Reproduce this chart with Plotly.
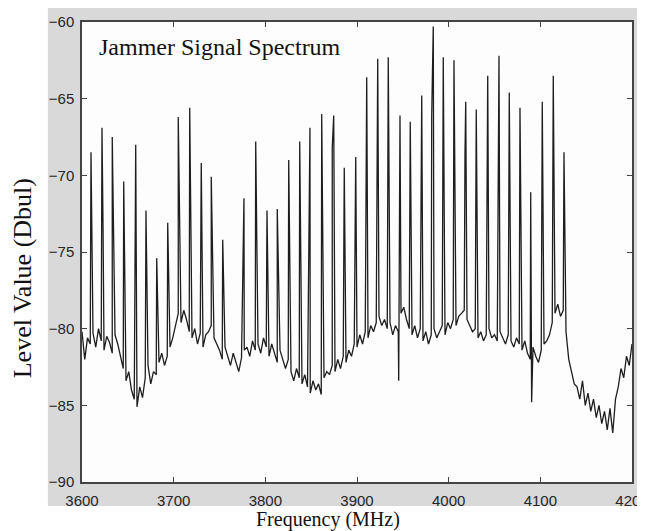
import numpy as np
import plotly.graph_objects as go

# noise floor, read every 3 MHz from 3600 to 4200 MHz
base_freq = np.arange(3600, 4201, 3)
base_level = [
    -80.2, -82.0, -80.6, -81.0, -80.3, -81.2, -80.0, -80.8, -81.4, -80.5,
    -80.9, -81.6, -80.4, -81.0, -81.8, -82.6, -83.4, -82.8, -84.0, -84.6,
    -85.1, -83.8, -84.5, -83.2, -82.4, -83.6, -82.8, -83.0, -82.2, -81.6,
    -82.4, -81.8, -81.2, -80.6, -79.8, -79.0, -79.6, -78.8, -79.4, -80.2,
    -80.6, -80.0, -81.0, -80.3, -81.2, -80.4, -80.2, -79.8, -80.6, -81.0,
    -81.4, -82.0, -81.2, -81.8, -82.4, -81.6, -82.2, -82.8, -81.9, -81.4,
    -81.2, -81.8, -80.8, -81.4, -81.0, -81.6, -80.6, -81.2, -81.8, -81.0,
    -81.6, -82.2, -81.4, -82.0, -82.6, -82.0, -82.8, -83.4, -82.6, -83.2,
    -83.6, -83.0, -83.8, -84.2, -83.4, -84.0, -83.6, -84.3, -83.2, -82.8,
    -83.0, -82.4, -82.8, -82.0, -82.6, -81.8, -82.2, -81.4, -81.8, -81.0,
    -81.2, -80.4, -81.0, -80.2, -80.6, -79.8, -80.2, -79.6, -79.2, -79.8,
    -79.4, -80.0, -79.6, -80.4, -79.8, -80.2, -79.0, -78.6, -79.4, -80.0,
    -80.4, -79.8, -80.6, -80.0, -80.8, -80.2, -81.0, -80.4, -80.0, -80.6,
    -80.2, -79.8, -80.4, -79.6, -80.0, -79.4, -79.8, -79.2, -79.0, -78.8,
    -79.4, -79.8, -80.2, -80.0, -80.6, -80.2, -80.8, -80.4, -80.0, -80.6,
    -80.4, -80.8, -80.2, -80.6, -81.0, -80.4, -80.8, -81.2, -80.6, -81.0,
    -81.4, -80.8, -81.6, -82.0, -81.2, -81.8, -82.2, -81.4, -81.0, -80.8,
    -80.4, -79.6, -79.0, -78.4, -79.2, -78.8, -80.2, -82.0, -82.8, -83.6,
    -83.8, -84.6, -83.4, -85.0, -84.2, -85.4, -84.6, -85.8, -85.0, -86.2,
    -85.4, -86.6, -85.2, -86.8, -84.6, -83.8, -82.6, -83.2, -81.8, -82.4,
    -81.0,
]

# jammer comb lines (MHz, dBuV)
spike_freq = [
    3609.8, 3621.8, 3623.0, 3633.0, 3645.5, 3658.6, 3669.8, 3681.5, 3693.5,
    3705.0, 3717.5, 3730.1, 3741.0, 3753.5, 3776.7, 3789.5, 3801.8, 3813.0,
    3825.5, 3837.5, 3848.7, 3861.5, 3873.0, 3874.6, 3886.1, 3898.6, 3910.6,
    3922.6, 3934.1, 3945.5, 3946.9, 3958.1, 3970.6, 3981.5, 3983.2, 3994.1,
    4005.8, 4017.8, 4018.6, 4030.1, 4042.6, 4054.2, 4054.9, 4066.1, 4077.8,
    4089.5, 4090.5, 4102.1, 4114.1, 4125.8,
]
spike_level = [
    -68.5, -66.9, -73.6, -67.5, -70.4, -68.0, -72.3, -75.4, -73.1,
    -66.2, -65.6, -69.2, -70.1, -74.2, -71.5, -67.8, -72.3, -72.2,
    -69.0, -67.8, -66.9, -66.0, -68.2, -66.1, -69.5, -68.8, -63.6,
    -62.4, -62.3, -83.4, -66.1, -66.5, -64.8, -66.1, -60.3, -62.3,
    -62.5, -68.7, -65.2, -65.7, -63.5, -66.6, -62.2, -64.6, -65.6,
    -71.1, -84.8, -65.2, -63.5, -68.5,
]

x_ticks = [3600, 3700, 3800, 3900, 4000, 4100, 4200]
y_ticks = [-90, -85, -80, -75, -70, -65, -60]

freq = np.concatenate([base_freq, spike_freq])
level = np.concatenate([base_level, spike_level])
order = np.argsort(freq, kind="stable")

fig = go.Figure()
fig.add_trace(go.Scatter(
    x=freq[order], y=level[order], mode="lines",
    line=dict(color="#1e1e1e", width=1.3),
    showlegend=False,
))

# grey figure panel behind the axes, white plotting area on top of it
fig.add_shape(type="rect", xref="paper", yref="paper",
              x0=-0.062, x1=1.03, y0=-0.052, y1=1.031,
              fillcolor="#d9d9d9", line=dict(width=0), layer="below")
fig.add_shape(type="rect", xref="paper", yref="paper",
              x0=0, x1=1, y0=0, y1=1,
              fillcolor="#fdfdfd", line=dict(width=0), layer="below")

tick_font = dict(family="Liberation Sans", size=15, color="#262626")
axis_common = dict(showline=True, linecolor="#444444", linewidth=1.5,
                   mirror="ticks", ticks="inside", ticklen=5,
                   tickcolor="#444444", tickwidth=1.2, showgrid=False,
                   zeroline=False, tickfont=tick_font,
                   ticklabeloverflow="allow", automargin=False)

fig.update_xaxes(range=[3600, 4200], tickvals=x_ticks,
                 ticklabelstandoff=4, **axis_common)
fig.update_yaxes(range=[-90, -60], tickvals=y_ticks,
                 ticklabelstandoff=3, **axis_common)

serif = "Liberation Serif"
fig.add_annotation(x=0.027, y=0.946, xref="paper", yref="paper",
                   text="Jammer Signal Spectrum", showarrow=False,
                   xanchor="left", yanchor="middle",
                   font=dict(family=serif, size=24, color="#111111"))
fig.add_annotation(x=-0.109, y=0.443, xref="paper", yref="paper",
                   text="Level Value (Dbul)", showarrow=False, textangle=-90,
                   xanchor="center", yanchor="middle",
                   font=dict(family=serif, size=26, color="#111111"))
fig.add_annotation(x=0.447, y=-0.081, xref="paper", yref="paper",
                   text="Frequency (MHz)", showarrow=False,
                   xanchor="center", yanchor="middle",
                   font=dict(family=serif, size=20, color="#111111"))

# the page body adds 8px around the figure, so the figure is 8px smaller
fig.update_layout(
    width=637, height=523,
    margin=dict(l=74, r=13, t=14, b=49),
    paper_bgcolor="white", plot_bgcolor="white",
)

fig.write_html("out.html")
